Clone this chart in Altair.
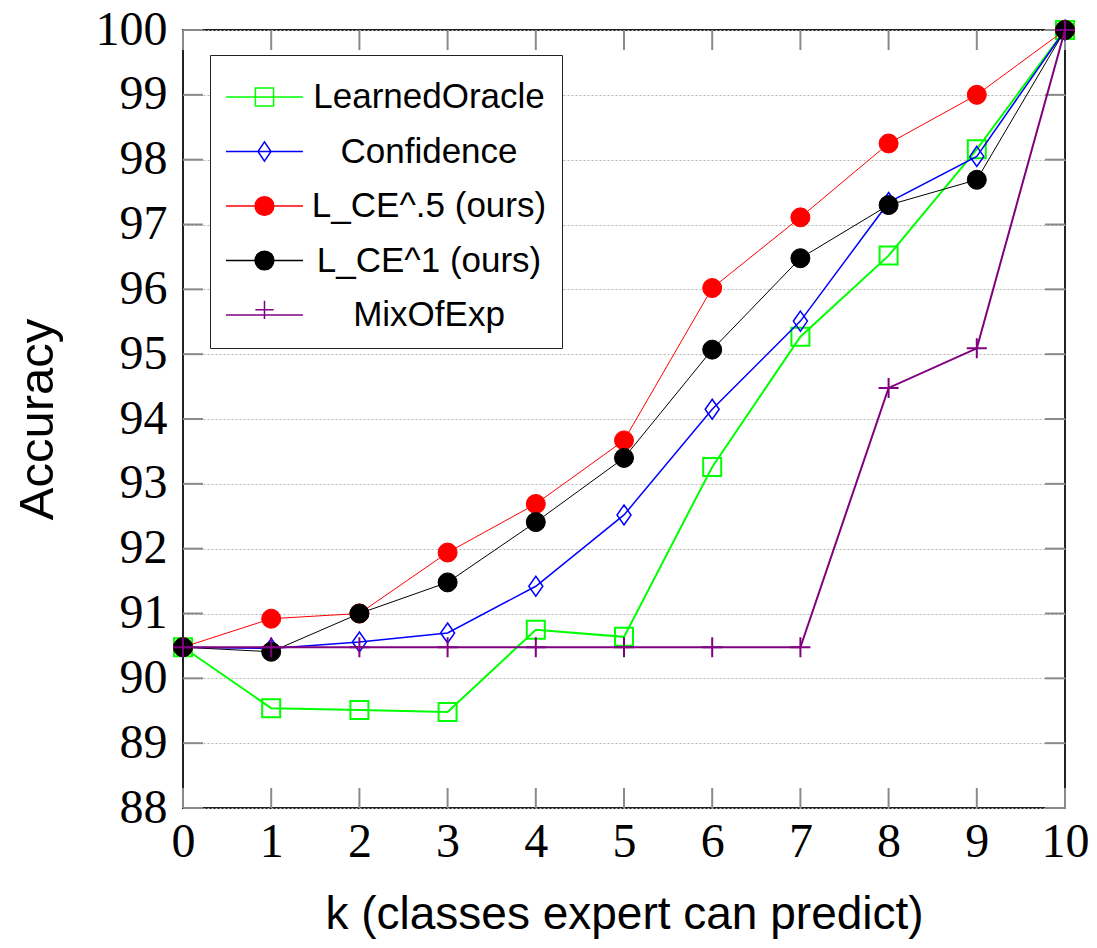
import altair as alt
import pandas as pd

# ---- data ----
k_values = [0, 1, 2, 3, 4, 5, 6, 7, 8, 9, 10]
series_names = ["LearnedOracle", "Confidence", "L_CE^.5 (ours)", "L_CE^1 (ours)", "MixOfExp"]
learned_oracle = [90.48, 89.54, 89.51, 89.48, 90.75, 90.64, 93.26, 95.27, 96.52, 98.16, 100.0]
confidence = [90.48, 90.46, 90.56, 90.70, 91.42, 92.52, 94.15, 95.51, 97.34, 98.05, 100.0]
l_ce_05 = [90.48, 90.92, 91.00, 91.94, 92.69, 93.67, 96.02, 97.11, 98.25, 99.00, 100.0]
l_ce_1 = [90.48, 90.41, 91.00, 91.48, 92.41, 93.40, 95.07, 96.48, 97.30, 97.69, 100.0]
mix_of_exp = [90.48, 90.48, 90.48, 90.48, 90.48, 90.48, 90.48, 90.48, 94.48, 95.09, 100.0]
all_series = [learned_oracle, confidence, l_ce_05, l_ce_1, mix_of_exp]

x_ticks = [0, 1, 2, 3, 4, 5, 6, 7, 8, 9, 10]
y_ticks = [88, 89, 90, 91, 92, 93, 94, 95, 96, 97, 98, 99, 100]

# ---- styles ----
colors = ["#00ff00", "#0000ff", "#ff0000", "#000000", "#800080"]
line_widths = [2.0, 1.5, 1.0, 1.0, 2.0]
point_shapes = ["square", "M0,-1L0.7,0L0,1L-0.7,0Z", "circle", "circle", "M-1,0H1M0,-1V1"]
point_sizes = [324, 400, 361, 361, 400]
point_filled = [False, False, True, True, False]
point_stroke_widths = [2.0, 1.5, 1.0, 1.0, 2.0]
# legend glyphs: a line segment with the marker in its middle (unit = 26 px)
legend_paths = [
    "M-1,0H1.96M0.13,-0.35H0.83V0.35H0.13Z",
    "M-1,0H1.96M0.48,-0.37L0.73,0L0.48,0.37L0.23,0Z",
    "M-1,0H1.96M0.12,0A0.36,0.36,0,1,0,0.84,0A0.36,0.36,0,1,0,0.12,0Z",
    "M-1,0H1.96M0.12,0A0.36,0.36,0,1,0,0.84,0A0.36,0.36,0,1,0,0.12,0Z",
    "M-1,0H1.96M0.13,-0.2H0.83M0.48,-0.55V0.15",
]
legend_fills = ["transparent", "transparent", "#ff0000", "#000000", "transparent"]

serif = "Liberation Serif"
sans = "Liberation Sans"

x_scale = alt.Scale(domain=[0, 10], nice=False, zero=False)
y_scale = alt.Scale(domain=[88, 100], nice=False, zero=False)

x_axis = alt.Axis(
    title="k (classes expert can predict)", values=x_ticks, format="d",
    ticks=False, domain=False, grid=False, labelFlush=False, labelOverlap=False,
    labelFont=serif, labelFontSize=48, labelColor="black", labelPadding=10,
    titleFont=sans, titleFontSize=46, titleFontWeight="normal", titleColor="black",
    titlePadding=26,
)
y_axis = alt.Axis(
    title="Accuracy", values=y_ticks, format="d",
    ticks=False, domain=False, grid=True, gridDash=[2, 2], gridColor="#b5b5b5",
    gridWidth=1, labelFlush=False, labelOverlap=False,
    labelFont=serif, labelFontSize=48, labelColor="black", labelPadding=16,
    titleFont=sans, titleFontSize=49, titleFontWeight="normal", titleColor="black",
    titlePadding=33,
)

frames = []
for name, vals in zip(series_names, all_series):
    frames.append(pd.DataFrame({"k": k_values, "acc": vals, "series": name}))
data = pd.concat(frames, ignore_index=True)

layers = []

# inner tick marks (in data units)
tick_len_y = 20 / 64.83
tick_len_x = 20 / 88.2
xt = pd.DataFrame({"k": x_ticks})
yt = pd.DataFrame({"acc": y_ticks})
tick_style = dict(color="#8a8a8a", strokeWidth=2)
layers.append(alt.Chart(xt).mark_rule(**tick_style).encode(
    x=alt.X("k:Q", scale=x_scale, axis=x_axis),
    y=alt.Y(datum=88, scale=y_scale, axis=y_axis),
    y2=alt.Y2(datum=88 + tick_len_y)))
layers.append(alt.Chart(xt).mark_rule(**tick_style).encode(
    x=alt.X("k:Q", scale=x_scale, axis=x_axis),
    y=alt.Y(datum=100, scale=y_scale, axis=y_axis),
    y2=alt.Y2(datum=100 - tick_len_y)))
layers.append(alt.Chart(yt).mark_rule(**tick_style).encode(
    y=alt.Y("acc:Q", scale=y_scale, axis=y_axis),
    x=alt.X(datum=0, scale=x_scale, axis=x_axis),
    x2=alt.X2(datum=tick_len_x)))
layers.append(alt.Chart(yt).mark_rule(**tick_style).encode(
    y=alt.Y("acc:Q", scale=y_scale, axis=y_axis),
    x=alt.X(datum=10, scale=x_scale, axis=x_axis),
    x2=alt.X2(datum=10 - tick_len_x)))

for i, name in enumerate(series_names):
    sub = alt.Chart(data).transform_filter(alt.datum.series == name)
    enc = dict(x=alt.X("k:Q", scale=x_scale, axis=x_axis),
               y=alt.Y("acc:Q", scale=y_scale, axis=y_axis))
    layers.append(sub.mark_line(color=colors[i], strokeWidth=line_widths[i]).encode(**enc))
    if point_filled[i]:
        pm = sub.mark_point(shape=point_shapes[i], size=point_sizes[i], filled=True,
                            fill=colors[i], stroke=colors[i], strokeWidth=point_stroke_widths[i],
                            opacity=1)
    else:
        pm = sub.mark_point(shape=point_shapes[i], size=point_sizes[i], filled=False,
                            stroke=colors[i], strokeWidth=point_stroke_widths[i], opacity=1)
    layers.append(pm.encode(**enc))

# legend layer (no visible data; legend built from scales)
legend_df = pd.DataFrame({"series": series_names})
leg = alt.Legend(title=None)
layers.append(
    alt.Chart(legend_df).transform_filter("false").mark_point(filled=False, strokeWidth=1.5, opacity=1).encode(
        shape=alt.Shape("series:N", scale=alt.Scale(domain=series_names, range=legend_paths), legend=leg),
        stroke=alt.Stroke("series:N", scale=alt.Scale(domain=series_names, range=colors), legend=leg),
        fill=alt.Fill("series:N", scale=alt.Scale(domain=series_names, range=legend_fills), legend=leg),
    )
)

chart = alt.layer(*layers).properties(
    width=882, height=778,
    autosize=alt.AutoSizeParams(type="none"),
    padding={"left": 183, "top": 30, "right": 32, "bottom": 140},
    background="white",
).configure_view(
    stroke="#222222", strokeWidth=2
).configure_legend(
    orient="none", legendX=27, legendY=25,
    strokeColor="#222222", fillColor="white", padding=15,
    symbolSize=2704, symbolStrokeWidth=1.5,
    labelFont=sans, labelFontSize=35, labelColor="black", labelLimit=500,
    labelAlign="center", labelOffset=150, rowPadding=9.5,
)

chart.save("out.html", embed_options={"renderer": "svg", "actions": False})
